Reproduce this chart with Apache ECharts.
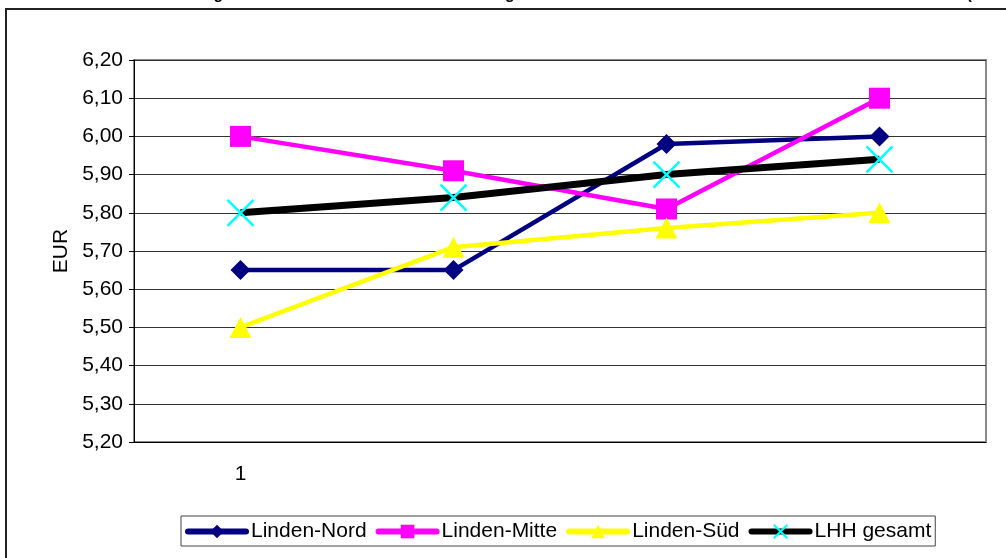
<!DOCTYPE html>
<html>
<head>
<meta charset="utf-8">
<script src="https://cdn.jsdelivr.net/npm/echarts@6/dist/echarts.min.js"></script>
<style>html,body{margin:0;padding:0;background:#fff;}#c{width:1006px;height:558px;}</style>
</head>
<body>
<div id="c"></div>
<script>
var titleText = 'Entwicklung der Nettokaltmieten in Linden im Vergleich zur Gesamtstadt und zum Stadtbezirk Linden-Limmer (EUR/m²)';
var categories = ['1', '', '', ''];
var yTicks = ['5,20','5,30','5,40','5,50','5,60','5,70','5,80','5,90','6,00','6,10','6,20'];
var lindenNord = [5.65, 5.65, 5.98, 6.00];
var lindenMitte = [6.00, 5.91, 5.81, 6.10];
var lindenSued = [5.50, 5.71, 5.76, 5.80];
var lhhGesamt = [5.80, 5.84, 5.90, 5.94];

var FONT = 'Arial, "Liberation Sans", sans-serif';
var chart = echarts.init(document.getElementById('c'));
chart.setOption({
  animation: false,
  backgroundColor: '#fff',
  textStyle: {fontFamily: FONT},
  graphic: [
    {type: 'rect', shape: {x: 6, y: 9, width: 1200, height: 700}, style: {fill: 'none', stroke: '#222', lineWidth: 2}, z: 0},
    {type: 'text', x: 129, y: 3, style: {text: titleText, font: 'bold 16px ' + FONT, fill: '#000', verticalAlign: 'bottom', align: 'left'}, z: 10}
  ],
  grid: {left: 134, top: 60, right: 20, bottom: 116, show: true, borderColor: '#888', borderWidth: 2},
  legend: {
    left: 181, bottom: 12,
    orient: 'horizontal',
    borderColor: '#444', borderWidth: 1, padding: [5, 4, 4, 4],
    itemGap: 9, itemWidth: 58, itemHeight: 17,
    lineStyle: {width: 6, cap: 'round'},
    textStyle: {fontSize: 21, color: '#000', fontFamily: FONT},
    data: ['Linden-Nord', 'Linden-Mitte', 'Linden-Süd', 'LHH gesamt']
  },
  xAxis: {
    type: 'category', data: categories, boundaryGap: true,
    axisLine: {lineStyle: {color: '#000', width: 1}},
    axisTick: {length: 5, lineStyle: {color: '#000'}},
    axisLabel: {color: '#000', fontSize: 21, margin: 22, fontFamily: FONT}
  },
  yAxis: {
    type: 'value', min: 5.2, max: 6.2, interval: 0.1,
    name: 'EUR', nameLocation: 'middle', nameGap: 57, nameRotate: 90,
    nameTextStyle: {fontSize: 21, color: '#000', fontFamily: FONT},
    axisLine: {show: true, lineStyle: {color: '#000', width: 1}},
    axisTick: {show: true, length: 5, lineStyle: {color: '#000'}},
    axisLabel: {color: '#000', fontSize: 21, margin: 11, fontFamily: FONT,
      formatter: function (v) { var i = Math.round((v - 5.2) * 10); return yTicks[i]; }},
    splitLine: {lineStyle: {color: '#333', width: 1}}
  },
  series: [
    {name: 'Linden-Nord', type: 'line', data: lindenNord, symbol: 'diamond', symbolSize: 20,
      lineStyle: {color: '#000080', width: 4.5}, itemStyle: {color: '#000080'}},
    {name: 'Linden-Mitte', type: 'line', data: lindenMitte, symbol: 'rect', symbolSize: 21,
      lineStyle: {color: '#FF00FF', width: 4.5}, itemStyle: {color: '#FF00FF'}},
    {name: 'Linden-Süd', type: 'line', data: lindenSued, symbol: 'triangle', symbolSize: [22, 21],
      lineStyle: {color: '#FFFF00', width: 4.5}, itemStyle: {color: '#FFFF00'}},
    {name: 'LHH gesamt', type: 'line', data: lhhGesamt, symbol: 'path://M0,0L10,10M10,0L0,10', symbolSize: 26,
      lineStyle: {color: '#000', width: 7}, itemStyle: {color: '#00FFFF', borderColor: '#00FFFF', borderWidth: 2.5}}
  ]
});
</script>
</body>
</html>
